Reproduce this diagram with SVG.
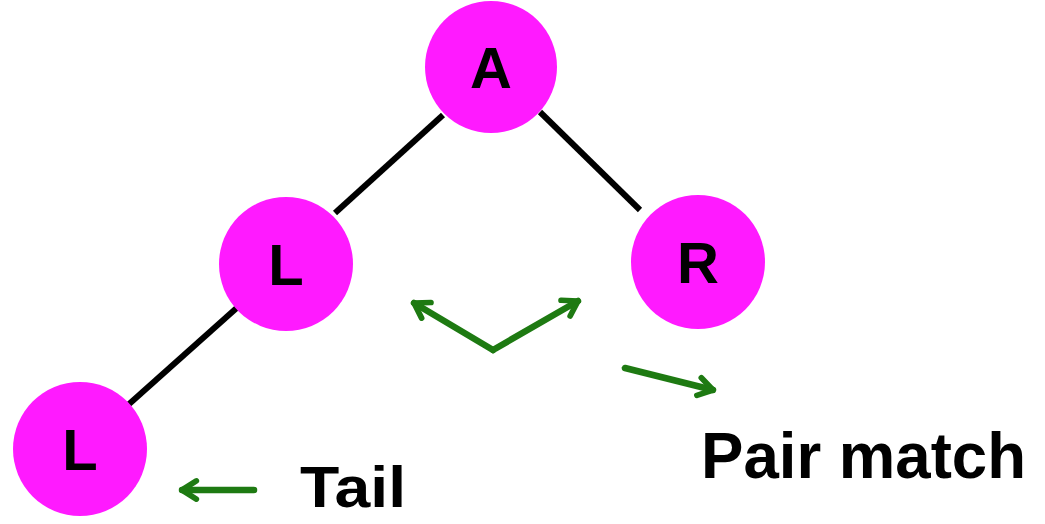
<svg xmlns="http://www.w3.org/2000/svg" width="1045" height="524" viewBox="0 0 1045 524">
<defs>
<style>
.node circle{fill:#ff1aff;}
.node text{font-family:"Liberation Sans",Arial,sans-serif;font-weight:bold;font-size:58px;fill:#000;text-anchor:middle;}
.edge{stroke:#000;stroke-width:6;}
.garrow{stroke:#1e7a12;stroke-width:6.5;fill:none;stroke-linecap:round;stroke-linejoin:round;}
.label{font-family:"Liberation Sans",Arial,sans-serif;font-weight:bold;fill:#000;}
</style>
<marker id="ah" viewBox="0 0 10 10" refX="7" refY="5" markerWidth="4" markerHeight="4" orient="auto" markerUnits="strokeWidth">
<path d="M1.5,1.5 L7,5 L1.5,8.5" fill="none" stroke="#1e7a12" stroke-width="2.2" stroke-linecap="round" stroke-linejoin="round"/>
</marker>
</defs>
<rect width="1045" height="524" fill="#fff"/>
<g id="connectors">
<line class="edge" x1="443" y1="115" x2="335" y2="213"/>
<line class="edge" x1="540" y1="112" x2="640" y2="210"/>
<line class="edge" x1="240" y1="305" x2="128" y2="405"/>
<path class="garrow" d="M493,350 L414,303" marker-end="url(#ah)"/>
<path class="garrow" d="M493,350 L578,301" marker-end="url(#ah)"/>
<path class="garrow" d="M625,368 L713,390" marker-end="url(#ah)"/>
<path class="garrow" d="M254,490 L182,490" marker-end="url(#ah)"/>
</g>
<g id="node-A" class="node"><circle cx="491" cy="67" r="66"/><text x="491" y="88">A</text></g>
<g id="node-L1" class="node"><circle cx="286" cy="264" r="67"/><text x="286" y="285">L</text></g>
<g id="node-R" class="node"><circle cx="698" cy="262" r="67"/><text x="698" y="283">R</text></g>
<g id="node-L2" class="node"><circle cx="80" cy="449" r="67"/><text x="80" y="470">L</text></g>
<text class="label" x="300" y="507" font-size="57" textLength="106" lengthAdjust="spacingAndGlyphs">Tail</text>
<text class="label" x="701" y="478" font-size="64" textLength="325" lengthAdjust="spacingAndGlyphs">Pair match</text>
</svg>
